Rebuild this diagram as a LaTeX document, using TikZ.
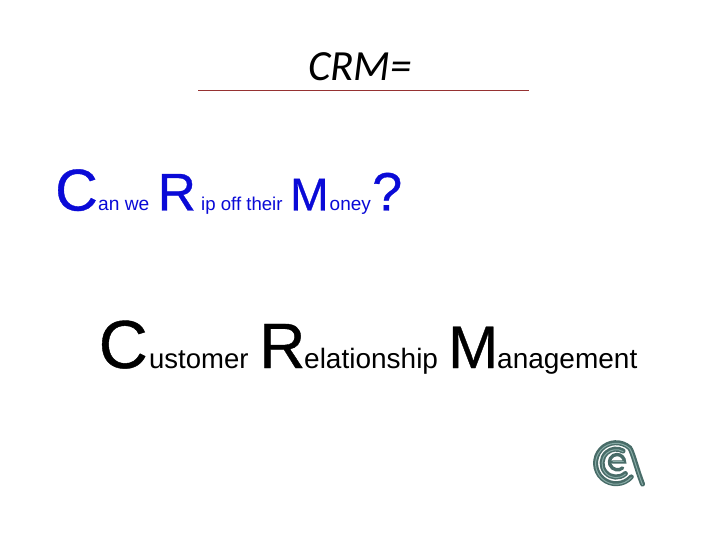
\documentclass[tikz,border=0pt]{standalone}
\usepackage{fontspec}
\setmainfont{Liberation Sans}
\newfontfamily\titlefont{Carlito}
\newfontfamily\heavyfont[FakeBold=0.6]{Liberation Sans}
\definecolor{crmblue}{RGB}{10,10,215}
\definecolor{rulered}{RGB}{150,50,50}
\definecolor{logodark}{RGB}{72,108,104}
\definecolor{logolight}{RGB}{135,170,165}
\newcommand{\fs}[1]{\fontsize{#1}{#1}\selectfont}
\tikzset{
  x=1pt,y=-1pt,
  bluetext/.style={text=crmblue,inner sep=0pt,anchor=base west},
  blacktext/.style={text=black,inner sep=0pt,anchor=base west},
  logoa/.style={draw=logodark,line width=5pt,line cap=round},
  logob/.style={draw=logolight,line width=1pt,line cap=round}
}
\begin{document}
\begin{tikzpicture}
\useasboundingbox (0,0) rectangle (720,540);
\fill[white] (0,0) rectangle (720,540);
\node[blacktext,font=\titlefont\itshape\fs{43}] (title) at (308,81) {CRM=};
\coordinate (ruleL) at (198,90.5);
\coordinate (ruleR) at (529,90.5);
\draw[rulered,line width=0.7pt] (ruleL) -- (ruleR);
\node[bluetext,font=\heavyfont\fs{59}] (c1) at (55,210.5) {C};
\node[bluetext,font=\fs{19.2}] (c1s) at (98,210.5) {an we};
\node[bluetext,font=\heavyfont\fs{53}] (r1) at (157.5,210.5) {R};
\node[bluetext,font=\fs{18.6}] (r1s) at (201,210.5) {ip off their};
\node[bluetext,font=\heavyfont\fs{46}] (m1) at (290,210.5) {M};
\node[bluetext,font=\fs{19}] (m1s) at (329.5,210.5) {oney};
\node[bluetext,font=\heavyfont\fs{54}] (q1) at (372,210.5) {?};
\node[blacktext,font=\heavyfont\fs{68}] (c2) at (98.5,368) {C};
\node[blacktext,font=\fs{27.5}] (c2s) at (149,368) {ustomer};
\node[blacktext,font=\heavyfont\fs{64}] (r2) at (259,368) {R};
\node[blacktext,font=\fs{28}] (r2s) at (304,368) {elationship};
\node[blacktext,font=\heavyfont\fs{60}] (m2) at (448,368) {M};
\node[blacktext,font=\fs{28}] (m2s) at (497,368) {anagement};
% logo
\foreach \st/\dr in {logoa/0,logob/-0.6}{
  \begin{scope}[yshift=\dr pt]
  \draw[\st] (631.3,476.9) arc[start angle=42,end angle=312,radius=20.5] .. controls (633,453) and (637,470) .. (642.5,484);
  \draw[\st] (625.4,473.5) arc[start angle=48,end angle=300,radius=14];
  \end{scope}
}
\draw[logodark,line width=3.4pt,line cap=round] (612.5,462) -- (624.5,462) arc[start angle=0,end angle=-200,radius=7.5] arc[start angle=160,end angle=50,radius=8];
\draw[logolight,line width=0.8pt,line cap=round] (613,461.5) -- (623.5,461.5);
\end{tikzpicture}
\end{document}
